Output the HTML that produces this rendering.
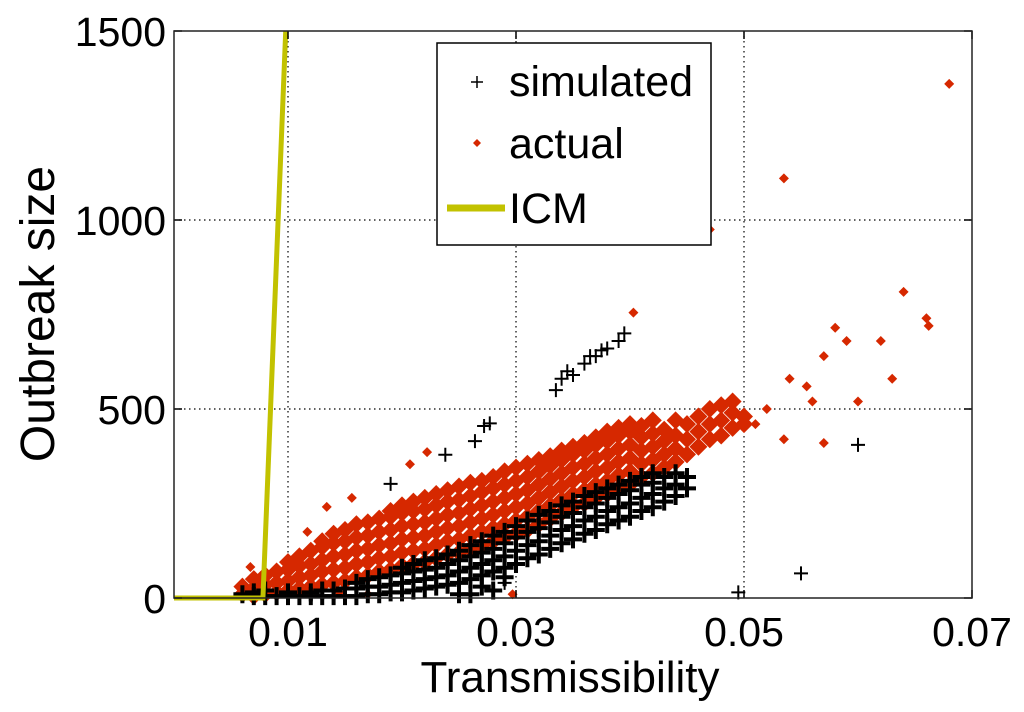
<!DOCTYPE html>
<html><head><meta charset="utf-8"><style>
body{margin:0;background:#fff;}
svg{display:block;font-family:"Liberation Sans",Arial,sans-serif;}
</style></head><body>
<svg id="chart" width="1024" height="712" viewBox="0 0 1024 712" xmlns="http://www.w3.org/2000/svg">
<g id="grid"></g>
<g id="marks"></g>
<g id="axes"></g>
<text x="570" y="692" font-size="44" text-anchor="middle">Transmissibility</text>
<text transform="translate(54,314) rotate(-90)" font-size="48" text-anchor="middle">Outbreak size</text>
<g>
<rect x="437" y="43" width="274" height="202" fill="#fff" stroke="#000" stroke-width="1.5"/>
<g>
<path d="M471 82h12M477 76v12" stroke="#000" stroke-width="1.5"/>
<text x="509" y="96" font-size="43">simulated</text></g>
<g>
<path d="M477 139l4 4-4 4-4-4z" fill="#d62800"/>
<text x="509" y="158" font-size="43">actual</text></g>
<g>
<path d="M447 208h58" stroke="#c2c200" stroke-width="7"/>
<text x="509" y="223" font-size="43">ICM</text></g>
</g>
</svg>
<script>
const xTicks=[0.01,0.03,0.05,0.07];
const xTickLabels=["0.01","0.03","0.05","0.07"];
const yTicks=[0,500,1000,1500];
const yTickLabels=["0","500","1000","1500"];
const icmX=[0,0.0078,0.0098];
const icmY=[0,0,1500];
const actualCols=[[0.006,[10,30]],[0.007,[5,25,50]],[0.008,[10,35,60]],[0.009,[15,40,70]],[0.010,[20,45,75,95]],[0.011,[25,55,85,110]],[0.012,[30,60,90,125]],[0.013,[35,70,100,135,150]],[0.014,[40,75,110,145,170]],[0.015,[45,80,115,150,180]],[0.016,[55,90,125,160,195]],[0.017,[60,95,130,165,200]],[0.018,[70,105,140,175,210]],[0.019,[75,110,145,180,215,230]],[0.020,[85,120,155,190,225,245]],[0.021,[90,125,160,195,230,255]],[0.022,[95,130,165,200,235,265]],[0.023,[105,140,175,210,245,275]],[0.024,[115,150,185,220,255,285]],[0.025,[120,155,190,225,260,295]],[0.026,[130,165,200,235,270,305]],[0.027,[140,175,210,245,280,310]],[0.028,[150,185,220,255,290,320]],[0.029,[160,195,230,265,300,335]],[0.030,[170,205,240,275,310,345]],[0.031,[180,215,250,285,320,355]],[0.032,[195,230,265,300,335,365]],[0.033,[210,245,280,315,350,375]],[0.034,[225,260,295,330,365,390]],[0.035,[240,275,310,345,380,400]],[0.036,[250,285,320,355,390,410]],[0.037,[265,300,335,370,405,425]],[0.038,[275,310,345,380,415,440]],[0.039,[290,325,360,395,430,450]],[0.040,[300,335,370,405,440,460]],[0.041,[320,355,390,425,455]],[0.042,[330,365,400,435,470]],[0.043,[345,380,415,445]],[0.044,[360,395,430,470]],[0.045,[380,420,460]],[0.046,[400,440,480]],[0.047,[420,460,500]],[0.048,[430,470,510]],[0.049,[450,490,520]],[0.050,[460,480]]];
const actualOutX=[0.0067,0.0117,0.0134,0.0156,0.0207,0.0222,0.0297,0.047,0.0535,0.068,0.064,0.066,0.0662,0.058,0.059,0.057,0.062,0.0555,0.054,0.056,0.060,0.051,0.052,0.0535,0.057,0.063,0.0403,0.0145,0.017];
const actualOutY=[82,175,241,265,354,386,10,975,1110,1360,810,740,720,715,680,640,680,560,580,520,520,460,500,420,410,580,755,15,10];
const simCols=[[0.006,[10]],[0.007,[5,15]],[0.008,[5,20]],[0.009,[5]],[0.010,[5,15]],[0.011,[5]],[0.012,[5,15]],[0.013,[5,20]],[0.014,[5,20]],[0.015,[5,25]],[0.016,[5,25,40]],[0.017,[10,30,50]],[0.018,[10,30,55]],[0.019,[15,35,60]],[0.020,[15,40,65,80]],[0.021,[20,45,70,90]],[0.022,[25,50,75,100]],[0.023,[30,55,80,105]],[0.024,[35,60,90,115]],[0.025,[10,40,70,100,125]],[0.026,[10,50,80,110,140]],[0.027,[30,60,90,120,150]],[0.028,[20,70,100,130,165]],[0.029,[55,80,110,145,175]],[0.030,[90,125,160,190]],[0.031,[105,140,175,205]],[0.032,[115,150,185,220]],[0.033,[130,165,200,230]],[0.034,[145,180,215,245]],[0.035,[155,190,225,255]],[0.036,[170,205,240,270]],[0.037,[180,215,250,280]],[0.038,[195,230,265,290]],[0.039,[205,240,275,300]],[0.040,[215,250,285,310]],[0.041,[230,265,300,320]],[0.042,[240,275,305,330]],[0.043,[255,290,320]],[0.044,[270,300,330]],[0.045,[290,320]]];
const simOutX=[0.0335,0.034,0.035,0.036,0.037,0.038,0.039,0.0345,0.0365,0.0375,0.0395,0.019,0.0238,0.0264,0.0277,0.0272,0.060,0.055,0.0495,0.029];
const simOutY=[550,580,590,620,640,660,680,600,640,655,700,302,379,415,462,455,405,65,15,40];

const L=174,R=972,T=31,B=598;
const sx=v=>L+(v-0)/(0.07-0)*(R-L);
const sy=v=>B-(v-0)/(1500-0)*(B-T);
const NS="http://www.w3.org/2000/svg";
function mk(tag,attrs,parent){const e=document.createElementNS(NS,tag);for(const k in attrs)e.setAttribute(k,attrs[k]);parent.appendChild(e);return e;}
const grid=document.getElementById('grid'),marks=document.getElementById('marks'),axes=document.getElementById('axes');
xTicks.forEach((t,i)=>{
  if(i<xTicks.length-1){const g=mk('line',{x1:sx(t),x2:sx(t),y1:T,y2:B,stroke:'#000','stroke-width':1.2,'stroke-dasharray':'1.5 3.5'},grid);
  
  }
  const tk=mk('path',{d:`M${sx(t)} ${B}v-8M${sx(t)} ${T}v8`,stroke:'#000','stroke-width':1.5},axes);
  
  
  const lb=mk('text',{x:sx(t),y:B+48,'font-size':41,'text-anchor':'middle'},axes);lb.textContent=xTickLabels[i];
  
  
});
yTicks.forEach((t,i)=>{
  if(i>0&&i<yTicks.length-1){const g=mk('line',{x1:L,x2:R,y1:sy(t),y2:sy(t),stroke:'#000','stroke-width':1.2,'stroke-dasharray':'1.5 3.5'},grid);
  
  }
  const tk=mk('path',{d:`M${L} ${sy(t)}h8M${R} ${sy(t)}h-8`,stroke:'#000','stroke-width':1.5},axes);
  
  
  const lb=mk('text',{x:L-8,y:sy(t)+15,'font-size':41,'text-anchor':'end'},axes);lb.textContent=yTickLabels[i];
  
  
});
const frame=mk('rect',{x:L,y:T,width:R-L,height:B-T,fill:'none',stroke:'#222','stroke-width':1.5},axes);


function diamond(x,y,r){const d=mk('path',{d:`M${sx(x)} ${sy(y)-r}l${r} ${r}-${r} ${r}-${r}-${r}z`,fill:'#d62800'},marks);
  
  }
function cross(x,y,a,w){const c=mk('path',{d:`M${sx(x)-a} ${sy(y)}h${2*a}M${sx(x)} ${sy(y)-a}v${2*a}`,stroke:'#000','stroke-width':w},marks);
  
  }
actualCols.forEach(([x,ys])=>ys.forEach(y=>diamond(x,y,9)));
actualOutX.forEach((x,i)=>diamond(x,actualOutY[i],5));
simCols.forEach(([x,ys])=>ys.forEach(y=>cross(x,y,9,4)));
simOutX.forEach((x,i)=>cross(x,simOutY[i],7,2));
const icm=mk('polyline',{points:icmX.map((x,i)=>sx(x)+','+sy(icmY[i])).join(' '),fill:'none',stroke:'#c2c200','stroke-width':5},marks);


</script>
</body></html>
